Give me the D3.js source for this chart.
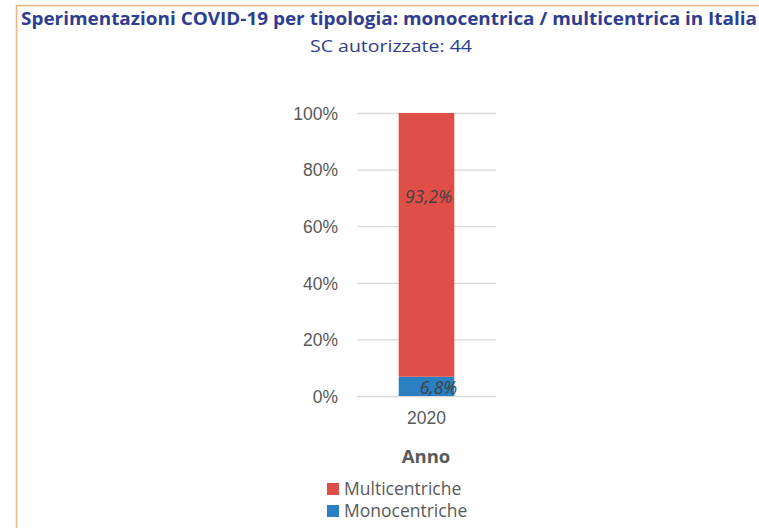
<!DOCTYPE html>
<html>
<head>
<meta charset="utf-8">
<script src="https://cdn.jsdelivr.net/npm/d3@7"></script>
<style>
  body { margin: 0; background: #fff; }
  svg { display: block; font-family: "Open Sans", "Noto Sans", sans-serif; }
  .grid line { stroke: #d9d9d9; stroke-width: 1.3; }
  .axis text { fill: #595959; font-size: 17.5px; }
</style>
</head>
<body>
<div id="chart"></div>
<script>
// data
const years = ["2020"];
const seriesNames = ["Monocentriche", "Multicentriche"];
const monocentriche = [6.8];
const multicentriche = [93.2];
const yTicks = [0, 20, 40, 60, 80, 100];
const colors = { "Multicentriche": "#e04f47", "Monocentriche": "#2a80c2" };

const W = 759, H = 528;
const svg = d3.select("#chart").append("svg")
    .attr("width", W)
    .attr("height", H);

// frame (cut off at right and bottom)
svg.append("path")
    .attr("d", "M16.5," + H + " V5.5 H" + W)
    .attr("fill", "none")
    .attr("stroke", "#f5b27c")
    .attr("stroke-width", 1.5);

//----------------------------TITLES----------------------------//
svg.append("text")
    .attr("x", 389)
    .attr("y", 25)
    .attr("text-anchor", "middle")
    .attr("fill", "#2e3d8f")
    .style("font-weight", "bold")
    .style("font-size", "17px")
    .attr("textLength", 736)
    .attr("lengthAdjust", "spacingAndGlyphs")
    .text("Sperimentazioni COVID-19 per tipologia: monocentrica / multicentrica in Italia");

svg.append("text")
    .attr("x", 391)
    .attr("y", 52)
    .attr("text-anchor", "middle")
    .attr("fill", "#2e3d8f")
    .style("font-size", "17px")
    .attr("textLength", 162)
    .attr("lengthAdjust", "spacingAndGlyphs")
    .text("SC autorizzate: 44");

//----------------------------SCALES----------------------------//
const x = d3.scaleBand().domain(years).range([357, 496]).paddingInner(0.6).paddingOuter(0.295);
const y = d3.scaleLinear().domain([0, 100]).range([396, 113]);

// grid
svg.append("g")
    .attr("class", "grid")
    .attr("transform", "translate(357,0)")
    .call(d3.axisLeft(y).tickValues(yTicks).tickSize(-139).tickFormat(""))
    .call(g => g.select(".domain").remove());

// y axis labels
svg.append("g")
    .attr("class", "axis")
    .attr("transform", "translate(338,0)")
    .call(d3.axisLeft(y).tickValues(yTicks).tickSize(0).tickPadding(0).tickFormat(d => d + "%"))
    .call(g => g.select(".domain").remove())
    .selectAll("text").attr("dy", "0.36em");

// x axis labels
svg.append("g")
    .attr("class", "axis")
    .attr("transform", "translate(0,412)")
    .call(d3.axisBottom(x).tickSize(0).tickPadding(0))
    .call(g => g.select(".domain").remove())
    .selectAll("text").attr("dy", "0.71em");

svg.append("text")
    .attr("x", 426)
    .attr("y", 463)
    .attr("text-anchor", "middle")
    .attr("fill", "#595959")
    .style("font-weight", "bold")
    .style("font-size", "18.5px")
    .text("Anno");

//----------------------------BARS------------------------------//
const table = years.map((yr, i) => ({ year: yr, Monocentriche: monocentriche[i], Multicentriche: multicentriche[i] }));
const stacked = d3.stack().keys(seriesNames)(table);

const layers = svg.selectAll(".layer")
    .data(stacked)
    .enter().append("g")
    .attr("class", "layer")
    .attr("fill", d => colors[d.key]);

layers.selectAll("rect")
    .data(d => d)
    .enter().append("rect")
    .attr("x", d => x(d.data.year))
    .attr("width", x.bandwidth())
    .attr("y", d => y(d[1]))
    .attr("height", d => y(d[0]) - y(d[1]));

// value labels
const labelPos = { "Multicentriche": { dx: 2, y: 70.3 }, "Monocentriche": { dx: 12, y: 2.8 } };
layers.selectAll("text")
    .data(d => d.map(v => ({ key: d.key, v: v })))
    .enter().append("text")
    .attr("x", d => x(d.v.data.year) + x.bandwidth() / 2 + labelPos[d.key].dx)
    .attr("y", d => y(labelPos[d.key].y))
    .attr("dy", "0.36em")
    .attr("text-anchor", "middle")
    .attr("fill", "#404040")
    .style("font-style", "italic")
    .style("font-size", "17.5px")
    .text(d => (d.v[1] - d.v[0]).toFixed(1).replace(".", ",") + "%");

//----------------------------LEGEND----------------------------//
const legendItems = ["Multicentriche", "Monocentriche"];
const legend = svg.selectAll(".legend")
    .data(legendItems)
    .enter().append("g")
    .attr("class", "legend")
    .attr("transform", (d, i) => "translate(327," + (483 + i * 22) + ")");

legend.append("rect")
    .attr("width", 12)
    .attr("height", 12)
    .attr("fill", d => colors[d]);

legend.append("text")
    .attr("x", 17)
    .attr("y", 6)
    .attr("dy", "0.36em")
    .attr("fill", "#595959")
    .style("font-size", "17.5px")
    .text(d => d);
</script>
</body>
</html>
